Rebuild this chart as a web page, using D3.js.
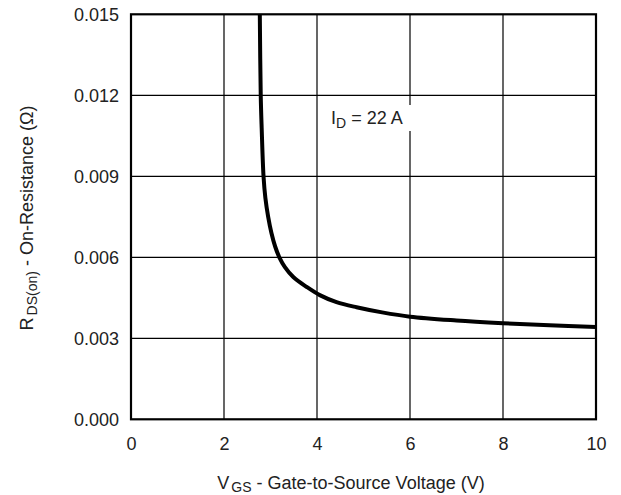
<!DOCTYPE html>
<html>
<head>
<meta charset="utf-8">
<style>
    body { margin: 0; background: #fff; }
    svg { display: block; }
    .tick text { font-family: "Liberation Sans", Arial, sans-serif; font-size: 18px; fill: #222; }
    .label { font-family: "Liberation Sans", Arial, sans-serif; font-size: 18px; fill: #222; }
</style>
</head>
<body>
<svg width="621" height="495"></svg>
<script src="https://d3js.org/d3.v7.min.js"></script>
<script>

    // gate voltage (V) and on-resistance (ohm)
    let vgs   = [2.77, 2.79, 2.81, 2.85, 2.89, 2.95, 3.02, 3.10, 3.19, 3.31, 3.49, 3.78, 4.06, 4.42, 4.85, 5.4, 6.0, 7.0, 8.0, 9.0, 10.0]
    let rdsOn = [0.0150, 0.0120, 0.0108, 0.0090, 0.0082, 0.0075, 0.0069, 0.0064, 0.0060, 0.00564, 0.00527, 0.0049, 0.0046, 0.00434, 0.00415, 0.00396, 0.0038, 0.00366, 0.00356, 0.00348, 0.00342]

    let xTicks = [0, 2, 4, 6, 8, 10]
    let yTicks = [0, 0.003, 0.006, 0.009, 0.012, 0.015]

    let margin = { top: 14.3, right: 25, bottom: 75.7, left: 131 }
    let width = 621, height = 495

    let svg = d3.select("svg")

    let x = d3.scaleLinear().domain([0, 10]).range([margin.left, width - margin.right])
    let y = d3.scaleLinear().domain([0, 0.015]).range([height - margin.bottom, margin.top])

    // grid
    svg.append("g")
        .selectAll("line")
        .data(xTicks.slice(1, -1))
        .join("line")
        .attr("x1", d => x(d)).attr("x2", d => x(d))
        .attr("y1", y(0)).attr("y2", y(0.015))
        .attr("stroke", "#000").attr("stroke-width", 1.2)

    svg.append("g")
        .selectAll("line")
        .data(yTicks.slice(1, -1))
        .join("line")
        .attr("y1", d => y(d)).attr("y2", d => y(d))
        .attr("x1", x(0)).attr("x2", x(10))
        .attr("stroke", "#000").attr("stroke-width", 1.2)

    // axes (labels only)
    svg.append("g")
        .attr("transform", `translate(0, ${y(0)})`)
        .call(d3.axisBottom(x).tickValues(xTicks).tickSize(0).tickPadding(18).tickFormat(d3.format("d")))
        .call(g => g.select(".domain").remove())

    svg.append("g")
        .attr("transform", `translate(${x(0)}, 0)`)
        .call(d3.axisLeft(y).tickValues(yTicks).tickSize(0).tickPadding(12).tickFormat(d3.format(".3f")))
        .call(g => g.select(".domain").remove())

    // label box
    svg.append("rect")
        .attr("x", 326).attr("y", 105)
        .attr("width", 87).attr("height", 26)
        .attr("fill", "#fff")

    let idLabel = svg.append("text")
        .attr("class", "label")
        .attr("x", 331).attr("y", 124)
    idLabel.append("tspan").text("I")
    idLabel.append("tspan").attr("dy", 4).attr("font-size", 14).text("D")
    idLabel.append("tspan").attr("dy", -4).text(" = 22 A")

    // curve
    let line = d3.line()
        .x((d, i) => x(vgs[i]))
        .y(d => y(d))
        .curve(d3.curveCatmullRom.alpha(0.5))

    svg.append("path")
        .datum(rdsOn)
        .attr("fill", "none")
        .attr("stroke", "#000")
        .attr("stroke-width", 4)
        .attr("d", line)

    // frame
    svg.append("rect")
        .attr("x", x(0)).attr("y", y(0.015))
        .attr("width", x(10) - x(0)).attr("height", y(0) - y(0.015))
        .attr("fill", "none")
        .attr("stroke", "#000")
        .attr("stroke-width", 2.2)

    // axis titles
    let xt = svg.append("text")
        .attr("class", "label")
        .attr("x", 351)
        .attr("y", 489)
        .attr("text-anchor", "middle")
    xt.append("tspan").text("V")
    xt.append("tspan").attr("dx", 2).attr("dy", 3).attr("font-size", 14).text("GS")
    xt.append("tspan").attr("dy", -3).text(" - Gate-to-Source Voltage (V)")

    let yt = svg.append("text")
        .attr("class", "label")
        .attr("transform", `translate(33, 218) rotate(-90)`)
        .attr("text-anchor", "middle")
    yt.append("tspan").text("R")
    yt.append("tspan").attr("dx", 2).attr("dy", 4).attr("font-size", 14).text("DS(on)")
    yt.append("tspan").attr("dy", -4).text(" - On-Resistance (Ω)")

</script>
</body>
</html>
